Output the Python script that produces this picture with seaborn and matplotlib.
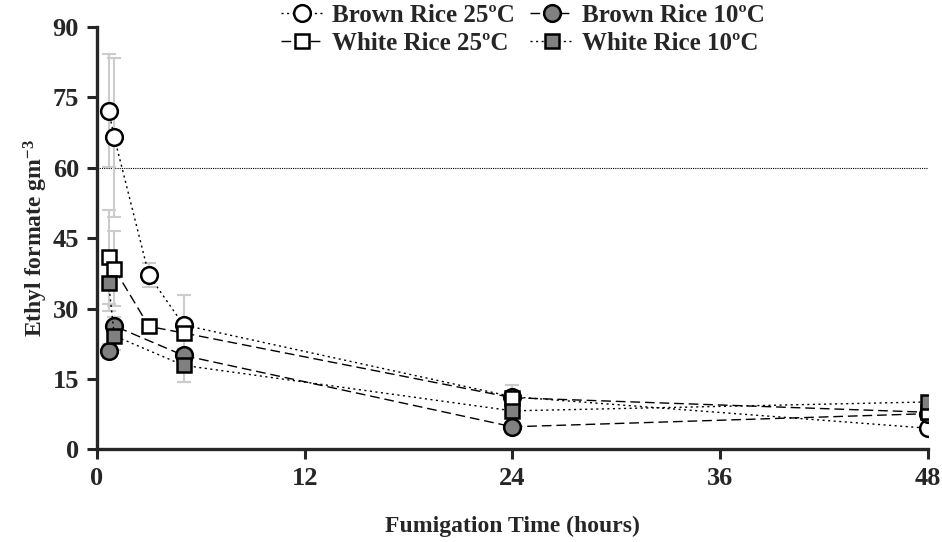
import numpy as np
import pandas as pd
import seaborn as sns
import matplotlib.pyplot as plt

# fumigation times (hours)
hours = [0.67, 1, 3, 5, 24, 48]

# ethyl formate concentration (g m-3), NaN = no reading
brown_25 = [72.2, 66.5, 37.1, 26.5, 11.2, 4.5]
brown_25_err = [12, 17, 2.6, 6.5, 2.5, 0.5]
white_25 = [41.0, 38.5, 26.2, 24.8, 11.0, 7.9]
white_25_err = [10, 8, 1.5, 1.5, 1.5, 0.5]
brown_10 = [21.0, 26.3, np.nan, 20.0, 4.8, 7.6]
brown_10_err = [1.5, 2, np.nan, 1, 0.5, 0.5]
white_10 = [35.5, 24.2, np.nan, 17.9, 8.2, 10.1]
white_10_err = [6, 3, np.nan, 3.5, 0.8, 0.5]

names = ['Brown Rice 25ºC', 'Brown Rice 10ºC', 'White Rice 25ºC', 'White Rice 10ºC']

sns.set_style('ticks')
plt.rcParams['font.family'] = ['Liberation Serif', 'DejaVu Serif']
plt.rcParams['font.weight'] = 'bold'
plt.rcParams['mathtext.fontset'] = 'custom'
plt.rcParams['mathtext.rm'] = 'Liberation Serif:bold'
plt.rcParams['mathtext.it'] = 'Liberation Serif:bold'
plt.rcParams['mathtext.bf'] = 'Liberation Serif:bold'

fig = plt.figure(figsize=(9.42, 5.42), dpi=100)
ax = fig.add_axes([0.103, 0.171, 0.882, 0.779])

series = [
    (names[0], brown_25, brown_25_err, 'o', 'white', (0, (1.5, 2.5)), 12),
    (names[1], brown_10, brown_10_err, 'o', '#808080', (0, (7, 3.5)), 12),
    (names[2], white_25, white_25_err, 's', 'white', (0, (7, 3.5)), 10.5),
    (names[3], white_10, white_10_err, 's', '#808080', (0, (1.5, 2.5)), 10.5),
]

ax.axhline(60, color='black', lw=0.8, ls=(0, (1, 1)), zorder=1)

for name, vals, err, mk, fc, ls, ms in series:
    df = pd.DataFrame({'hours': hours, 'conc': vals, 'err': err}).dropna()
    ax.errorbar(df['hours'], df['conc'], yerr=df['err'], fmt='none',
                ecolor='#cccccc', elinewidth=1.5, capsize=5, capthick=1.5, zorder=2)
    sns.lineplot(data=df, x='hours', y='conc', ax=ax, color='black', lw=1.0,
                 linestyle=ls, marker=mk, markersize=ms, markerfacecolor=fc,
                 markeredgecolor='black', markeredgewidth=1.8, label=name,
                 zorder=3)

ax.set_xlim(0, 48)
ax.set_ylim(0, 90)
ax.set_xticks([0, 12, 24, 36, 48])
ax.set_yticks([0, 15, 30, 45, 60, 75, 90])
ax.tick_params(axis='both', direction='out', length=7, width=2.2, labelsize=19, pad=6)
for lab in ax.get_xticklabels() + ax.get_yticklabels():
    lab.set_fontweight('bold')
for s in ['left', 'bottom']:
    ax.spines[s].set_linewidth(2.4)
sns.despine(ax=ax)

ax.set_xlabel('Fumigation Time (hours)', fontsize=17, fontweight='bold', labelpad=18)
ax.set_ylabel('Ethyl formate gm$^{-3}$', fontsize=17, fontweight='bold', labelpad=2)

h, l = ax.get_legend_handles_labels()
ax.get_legend().remove()
order = [0, 2, 1, 3]
fig.legend([h[i] for i in order], [l[i] for i in order], loc='upper center',
           bbox_to_anchor=(0.555, 1.035), ncol=2, frameon=False,
           prop={'family': 'Liberation Serif', 'weight': 'bold', 'size': 18},
           handlelength=1.7, columnspacing=0.6, handletextpad=0.35, labelspacing=0.2)

fig.savefig('out.png', dpi=100)
